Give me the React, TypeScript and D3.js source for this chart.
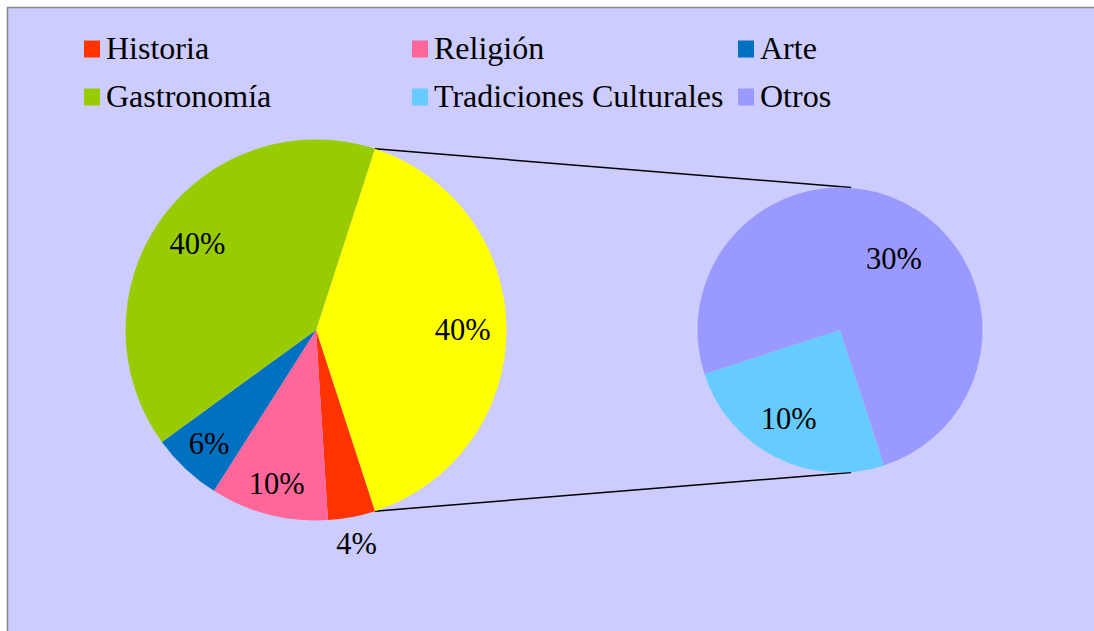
import React from "react";
import * as d3 from "d3";

const categories = ["Historia", "Religión", "Arte", "Gastronomía", "Tradiciones Culturales", "Otros"];
const values = [4, 10, 6, 40, 10, 30];
const colors = ["#FF3300", "#FF6699", "#0070C0", "#99CC00", "#66CCFF", "#9999FF"];
const combinedColor = "#FFFF00";
const secondaryCount = 2; // last two categories go to the secondary pie
// label placement: radius fraction per slice (main: combined, Historia, Religión, Arte, Gastronomía)
const mainLabelR = [0.77, 1.14, 0.83, 0.82, 0.77];
const secLabelR = [0.72, 0.63];
const secLabelAngleShift = [3, 10]; // degrees

const W = 1094;
const H = 631;
const FONT = "'Liberation Serif', 'DejaVu Serif', serif";
const FS_LEGEND = 32;
const FS_LABEL = 30.5;

export default function App() {
  const n = values.length;
  const primVals = values.slice(0, n - secondaryCount);
  const secVals = values.slice(n - secondaryCount);
  const total = d3.sum(values);
  const combined = d3.sum(secVals);

  const cx1 = 316, cy1 = 330, r1 = 190.5;
  const cx2 = 840, cy2 = 330, r2 = 142.5;

  const combAngle = (combined / total) * 2 * Math.PI;
  const mainStart = Math.PI / 2 - combAngle / 2;

  const mainData = [
    { name: "combined", value: combined, color: combinedColor },
    ...primVals.map((v, i) => ({ name: categories[i], value: v, color: colors[i] })),
  ];
  const mainPie = d3.pie<any>().sort(null).value((d) => d.value)
    .startAngle(mainStart).endAngle(mainStart + 2 * Math.PI);
  const mainArcs = mainPie(mainData);
  const arc1 = d3.arc<any>().innerRadius(0).outerRadius(r1);

  const secStart = Math.PI - mainStart;
  const secData = secVals.map((v, i) => ({
    name: categories[n - secondaryCount + i], value: v, color: colors[n - secondaryCount + i],
  }));
  const secPie = d3.pie<any>().sort(null).value((d) => d.value)
    .startAngle(secStart).endAngle(secStart + 2 * Math.PI);
  const secArcs = secPie(secData);
  const arc2 = d3.arc<any>().innerRadius(0).outerRadius(r2);

  const pct = (v: number) => `${Math.round((v / total) * 100)}%`;
  const polar = (cx: number, cy: number, r: number, a: number) => [cx + r * Math.sin(a), cy - r * Math.cos(a)];

  const comb = mainArcs[0];
  const [tx1, ty1] = polar(cx1, cy1, r1, comb.startAngle);
  const [bx1, by1] = polar(cx1, cy1, r1, comb.endAngle);
  const lx2 = cx2 + r2 * 0.078;

  const legendX = [84, 412, 738];
  const legendY = [49, 97];

  return (
    <svg width={W} height={H} style={{ position: "absolute", left: 0, top: 0, fontFamily: FONT }}>
      <rect x={0} y={0} width={W} height={H} fill="#FFFFFF" />
      <rect x={7.5} y={7.5} width={W + 10} height={H + 10} fill="#CCCCFF" stroke="#888888" strokeWidth={1.5} />

      {categories.map((c, i) => {
        const col = i % 3, row = Math.floor(i / 3);
        return (
          <g key={c} transform={`translate(${legendX[col]},${legendY[row]})`}>
            <rect x={0} y={-8.5} width={16} height={17} fill={colors[i]} />
            <text x={22} y={10} fontSize={FS_LEGEND} fill="#000" style={{ fontFamily: FONT }}>{c}</text>
          </g>
        );
      })}

      <line x1={tx1} y1={ty1} x2={lx2} y2={cy2 - r2} stroke="#000" strokeWidth={1.5} />
      <line x1={bx1} y1={by1} x2={lx2} y2={cy2 + r2} stroke="#000" strokeWidth={1.5} />

      <g transform={`translate(${cx1},${cy1})`}>
        {mainArcs.map((a, i) => (
          <path key={i} d={arc1(a) as string} fill={a.data.color} />
        ))}
        {mainArcs.map((a, i) => {
          const mid = (a.startAngle + a.endAngle) / 2;
          const [x, y] = polar(0, 0, r1 * mainLabelR[i], mid);
          return (
            <text key={"l" + i} x={x} y={y} dy="0.34em" textAnchor="middle" fontSize={FS_LABEL} fill="#000"
              style={{ fontFamily: FONT }}>
              {pct(a.data.value)}
            </text>
          );
        })}
      </g>

      <g transform={`translate(${cx2},${cy2})`}>
        {secArcs.map((a, i) => (
          <path key={i} d={arc2(a) as string} fill={a.data.color} />
        ))}
        {secArcs.map((a, i) => {
          const mid = (a.startAngle + a.endAngle) / 2 + (secLabelAngleShift[i] * Math.PI) / 180;
          const [x, y] = polar(0, 0, r2 * secLabelR[i], mid);
          return (
            <text key={"l" + i} x={x} y={y} dy="0.34em" textAnchor="middle" fontSize={FS_LABEL} fill="#000"
              style={{ fontFamily: FONT }}>
              {pct(a.data.value)}
            </text>
          );
        })}
      </g>
    </svg>
  );
}
